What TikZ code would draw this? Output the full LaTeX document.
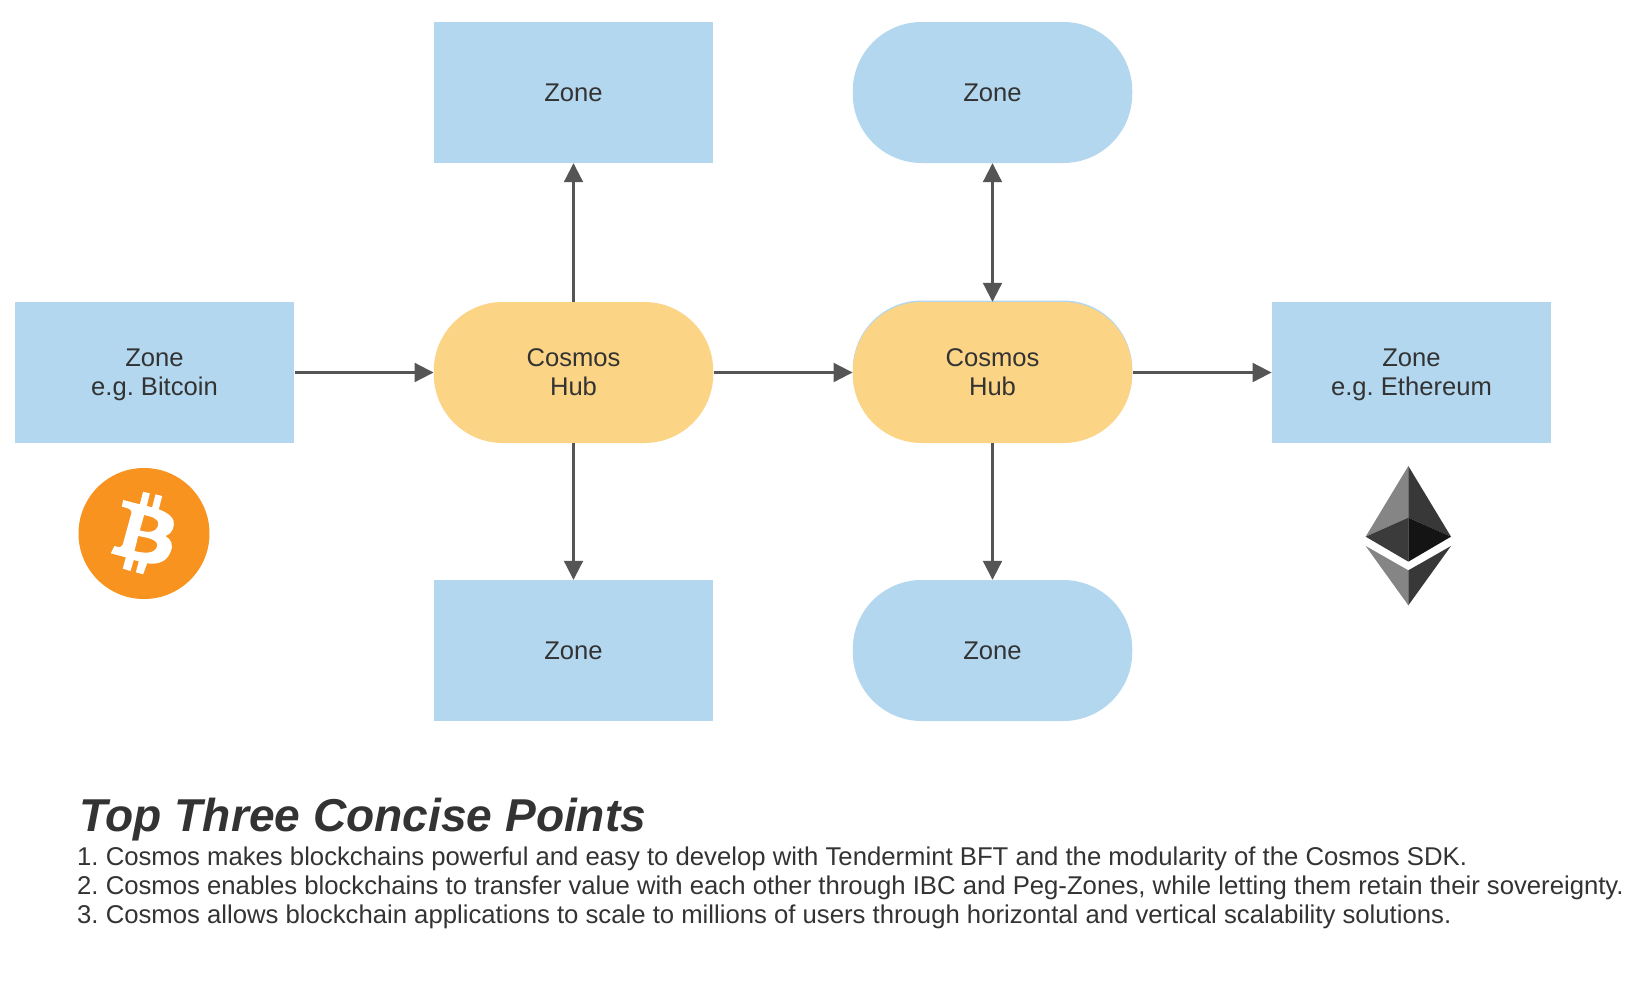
\documentclass[tikz,border=0pt]{standalone}
\usepackage{fontspec}
\setmainfont{Liberation Sans}
\usetikzlibrary{arrows.meta}
\frenchspacing
\definecolor{zoneblue}{HTML}{B3D7EF}
\definecolor{hubyellow}{HTML}{FBD486}
\definecolor{inkgrey}{HTML}{333333}
\definecolor{linegrey}{HTML}{555555}
\definecolor{btc}{HTML}{F7931E}
\tikzset{
  box/.style={rectangle,minimum width=279.5pt,minimum height=141pt,inner sep=0pt,align=center,
    text=inkgrey,font=\fontsize{25.6}{29.2}\selectfont},
  zonerect/.style={box,fill=zoneblue},
  zonepill/.style={box,fill=zoneblue,rounded corners=69pt},
  hubpill/.style={box,fill=hubyellow,rounded corners=69pt},
  link/.style={draw=linegrey,line width=2.1pt,-{Triangle[length=19pt,width=19pt]}},
  biglink/.style={link,{Triangle[length=19pt,width=19pt]}-{Triangle[length=19pt,width=19pt]}},
  bodyline/.style={anchor=base west,inner sep=0pt,text=inkgrey,font=\fontsize{25.7}{29.2}\selectfont},
  titleline/.style={anchor=base west,inner sep=0pt,text=inkgrey,font=\fontsize{46.1}{50}\selectfont\bfseries\itshape}
}
\begin{document}
\begin{tikzpicture}[x=1pt,y=-1pt]
\useasboundingbox (0,0) rectangle (1634,1002);
\fill[white] (0,0) rectangle (1634,1002);
% hub 2 has a blue shape just behind it
\node[zonepill] (hubback) at (992.5,371) {};
\node[zonerect] (zbtc) at (154.5,372.5) {Zone\\\smash{e.g. Bitcoin}};
\node[hubpill] (hubA) at (573.5,372.5) {Cosmos\\Hub};
\node[hubpill] (hubB) at (992.5,372.5) {Cosmos\\Hub};
\node[zonerect] (zeth) at (1411.5,372.5) {Zone\\\smash{e.g. Ethereum}};
\node[zonerect] (ztopA) at (573.5,92.5) {Zone};
\node[zonepill] (ztopB) at (992.5,92.5) {Zone};
\node[zonerect] (zbotA) at (573.5,650.5) {Zone};
\node[zonepill] (zbotB) at (992.5,650.5) {Zone};
\draw[link] (zbtc.east) ++(1,0) -- (hubA.west);
\draw[link] (hubA.east) ++(1,0) -- (hubB.west);
\draw[link] (hubB.east) ++(1,0) -- (zeth.west);
\draw[link] (hubA.north) -- (ztopA.south);
\draw[link] (hubA.south) -- (zbotA.north);
\draw[biglink] (hubB.north) -- (ztopB.south);
\draw[link] (hubB.south) -- (zbotB.north);
% Bitcoin logo
\fill[btc] (144,533.5) circle (65.5);
\begin{scope}[shift={(50.5,451)},x=0.3333pt,y=-0.3333pt]
\fill[white,even odd rule]
  (218,147) -- (268,160) -- (278,122) -- (298,127) -- (289,165) -- (305,169) -- (315,130) -- (335,135) -- (325,175)
  .. controls (360,188) and (373,205) .. (370,222)
  .. controls (368,240) and (358,250) .. (345,255)
  .. controls (362,265) and (370,282) .. (360,303)
  .. controls (350,330) and (325,342) .. (290,337)
  -- (278,370) -- (256,364) -- (265,331) -- (250,327) -- (240,360) -- (217,353) -- (226,319) -- (181,307) -- (192,285)
  .. controls (205,290) and (212,290) .. (217,280)
  -- (243,185) .. controls (243,175) and (235,172) .. (214,167) -- cycle
  (281,192) -- (268,238) .. controls (290,245) and (318,246) .. (323,222) .. controls (326,202) and (303,197) .. (281,192) -- cycle
  (263,255) -- (252,300) .. controls (280,307) and (314,310) .. (320,285) .. controls (323,265) and (290,260) .. (263,255) -- cycle;
\end{scope}
% Ethereum logo
\begin{scope}[shift={(1340,451)},x=0.3333pt,y=-0.3333pt]
\fill[black!48] (205,45) -- (77,257) -- (205,200) -- cycle;
\fill[black!78] (205,45) -- (333,257) -- (205,200) -- cycle;
\fill[black!77] (77,257) -- (205,200) -- (205,332) -- cycle;
\fill[black!92] (333,257) -- (205,200) -- (205,332) -- cycle;
\fill[black!48] (77,285) -- (205,358) -- (205,463) -- cycle;
\fill[black!78] (333,285) -- (205,358) -- (205,463) -- cycle;
\end{scope}
% Text
\node[titleline] (ttl) at (79,831) {Top Three Concise Points};
\node[bodyline] (p1) at (77,865) {1. Cosmos makes blockchains powerful and easy to develop with Tendermint BFT and the modularity of the Cosmos SDK.};
\node[bodyline] (p2) at (77,894) {2. Cosmos enables blockchains to transfer value with each other through IBC and Peg-Zones, while letting them retain their sovereignty.};
\node[bodyline] (p3) at (77,923) {3. Cosmos allows blockchain applications to scale to millions of users through horizontal and vertical scalability solutions.};
\end{tikzpicture}
\end{document}
